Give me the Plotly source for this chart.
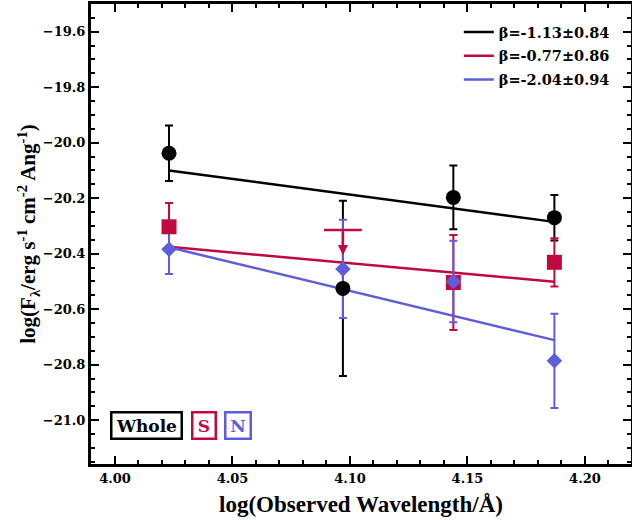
import plotly.graph_objects as go

# ---- data ----
logwave = [4.023, 4.097, 4.144, 4.187]

whole_y = [-20.038, -20.525, -20.197, -20.270]
whole_err = [0.100, 0.316, 0.115, 0.082]

s_x = [4.023, 4.144, 4.187]
s_y = [-20.303, -20.504, -20.431]
s_err = [0.086, 0.171, 0.087]
s_limit_x = [4.097]
s_limit_y = [-20.315]
s_limit_len = [0.090]

n_y = [-20.384, -20.455, -20.500, -20.786]
n_err = [0.089, 0.177, 0.147, 0.170]

# power-law fits: (beta, beta_err, value at first wavelength)
fit_whole = (-1.13, 0.84, -20.100)
fit_s = (-0.77, 0.86, -20.375)
fit_n = (-2.04, 0.94, -20.377)

BLACK = "#000000"
RED = "#C00A3F"
BLUE = "#5E5EDA"

fig = go.Figure()

fit_x = [logwave[0], logwave[-1]]
for (beta, berr, y0), col, grp in [(fit_whole, BLACK, "a"), (fit_s, RED, "b"), (fit_n, BLUE, "c")]:
    fy = [y0 + beta * (xx - fit_x[0]) for xx in fit_x]
    fig.add_trace(go.Scatter(
        x=fit_x, y=fy, mode="lines", line=dict(color=col, width=2.5),
        name=f"<b>β={beta:.2f}±{berr:.2f}</b>", legendgroup=grp, showlegend=True,
        hoverinfo="skip"))

def err_trace(x, y, e, col):
    return go.Scatter(
        x=x, y=y, mode="markers", marker=dict(size=1, color="rgba(0,0,0,0)"),
        error_y=dict(type="data", array=e, visible=True, color=col, thickness=2, width=4),
        showlegend=False, hoverinfo="skip")

fig.add_trace(err_trace(logwave, whole_y, whole_err, BLACK))
fig.add_trace(err_trace(s_x, s_y, s_err, RED))
fig.add_trace(err_trace(logwave, n_y, n_err, BLUE))

# upper limit for S
fig.add_trace(go.Scatter(
    x=s_limit_x, y=s_limit_y, mode="markers",
    marker=dict(symbol="line-ew", size=27, line=dict(color=RED, width=2.5)),
    showlegend=False, hoverinfo="skip"))
for lx, ly, ll in zip(s_limit_x, s_limit_y, s_limit_len):
    fig.add_annotation(x=lx, y=ly - ll, ax=lx, ay=ly, xref="x", yref="y",
                       axref="x", ayref="y", showarrow=True, arrowhead=2,
                       arrowsize=0.8, arrowwidth=2.5, arrowcolor=RED, text="")

fig.add_trace(go.Scatter(x=s_x, y=s_y, mode="markers",
                         marker=dict(symbol="square", size=15, color=RED),
                         showlegend=False, hoverinfo="skip"))
fig.add_trace(go.Scatter(x=logwave, y=n_y, mode="markers",
                         marker=dict(symbol="diamond", size=12, color=BLUE),
                         showlegend=False, hoverinfo="skip"))
fig.add_trace(go.Scatter(x=logwave, y=whole_y, mode="markers",
                         marker=dict(symbol="circle", size=15, color=BLACK),
                         showlegend=False, hoverinfo="skip"))

# labels boxes
for txt, col, xp, w in [("Whole", BLACK, 0.1024, 66), ("S", RED, 0.209, 19), ("N", BLUE, 0.2715, 21)]:
    fig.add_annotation(x=xp, y=0.083, xref="paper", yref="paper", text=f"<b>{txt}</b>",
                       xanchor="center", yanchor="middle",
                       showarrow=False, font=dict(family="DejaVu Serif", size=17, color=col),
                       width=w, height=22, align="center", valign="middle",
                       bordercolor=col, borderwidth=2.5, borderpad=1, bgcolor="white")

tickfont = dict(family="DejaVu Serif", size=13, color="black", weight="bold")
axis_common = dict(showline=True, linecolor="black", linewidth=3, mirror="ticks",
                   ticks="inside", ticklen=8, tickwidth=1.5, tickcolor="black",
                   showgrid=False, zeroline=False, tickfont=tickfont)

fig.update_xaxes(range=[3.9898, 4.2196], tick0=4.0, dtick=0.05, tickformat=".2f",
                 minor=dict(ticks="inside", ticklen=4, dtick=0.01, tickwidth=1.5, tickcolor="black"),
                 title=dict(text="<b>log(Observed Wavelength/Å)</b>",
                            font=dict(family="Liberation Serif", size=23, color="black"),
                            standoff=12),
                 **axis_common)
fig.update_yaxes(range=[-21.158, -19.50], tick0=-21.0, dtick=0.2, tickformat=".1f",
                 minor=dict(ticks="inside", ticklen=4, dtick=0.05, tickwidth=1.5, tickcolor="black"),
                 title=dict(text="<b>log(F<sub>λ</sub>/erg s<sup>-1</sup> cm<sup>-2</sup> Ang<sup>-1</sup>)</b>",
                            font=dict(family="Liberation Serif", size=21, color="black"),
                            standoff=0),
                 **axis_common)

fig.update_layout(
    width=632, height=520,
    margin=dict(l=91, r=1, t=4, b=56, autoexpand=False),
    paper_bgcolor="white", plot_bgcolor="white",
    showlegend=True,
    legend=dict(x=0.97, xanchor="right", y=0.974, yanchor="top",
                font=dict(family="DejaVu Serif", size=14.5, color="black"),
                bgcolor="rgba(0,0,0,0)", itemwidth=30, traceorder="grouped",
                tracegroupgap=2),
)

fig.write_html("out.html", config={"displayModeBar": False},
               post_script="document.body.style.margin='0';document.body.style.padding='0';")
